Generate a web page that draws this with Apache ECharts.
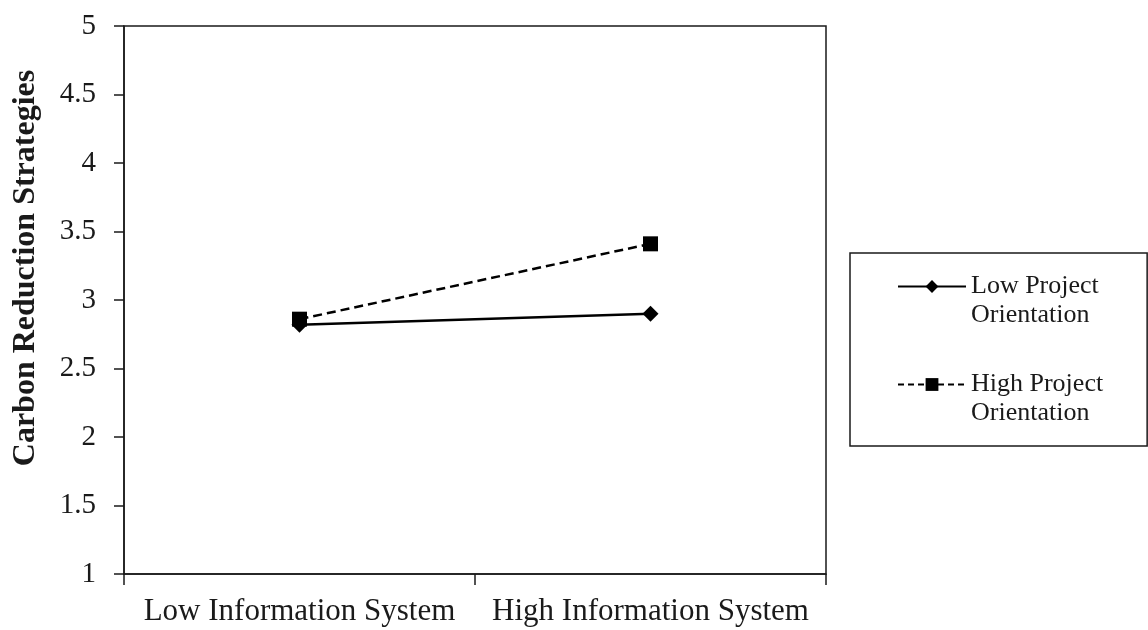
<!DOCTYPE html>
<html>
<head>
<meta charset="utf-8">
<script src="https://cdn.jsdelivr.net/npm/echarts@6/dist/echarts.min.js"></script>
<style>
html,body{margin:0;padding:0;background:#fff;}
#chart{width:1148px;height:630px;}
</style>
</head>
<body>
<div id="chart"></div>
<script>
const categories = ['Low Information System', 'High Information System'];
const lowProjectOrientation = [2.82, 2.90];
const highProjectOrientation = [2.86, 3.41];
const seriesNames = ['Low Project\nOrientation', 'High Project\nOrientation'];
const yAxisTitle = 'Carbon Reduction Strategies';

const serif = '"Liberation Serif", "Times New Roman", serif';
const ink = '#1a1a1a';

const chart = echarts.init(document.getElementById('chart'), null, {renderer: 'canvas'});
chart.setOption({
  backgroundColor: '#ffffff',
  animation: false,
  grid: {
    left: 124, right: 322, top: 26, bottom: 56,
    show: true, borderColor: ink, borderWidth: 1.5, backgroundColor: 'transparent'
  },
  legend: {
    orient: 'vertical',
    left: 850,
    top: 253,
    width: 260,
    padding: [-10, 44, 18, 47],
    borderColor: ink,
    borderWidth: 1.5,
    itemWidth: 68,
    itemHeight: 16,
    itemGap: 11,
    selectedMode: false,
    formatter: function (name) { return '\n' + name; },
    lineStyle: {width: 2},
    textStyle: {
      fontFamily: serif,
      fontSize: 26,
      lineHeight: 29,
      color: ink
    },
    data: [
      {name: seriesNames[0]},
      {name: seriesNames[1], lineStyle: {type: [6, 4]}}
    ]
  },
  xAxis: {
    type: 'category',
    data: categories,
    boundaryGap: true,
    axisLine: {show: true, lineStyle: {color: ink, width: 1.5}},
    axisTick: {show: true, length: 11, lineStyle: {color: ink, width: 1.5}},
    axisLabel: {fontFamily: serif, fontSize: 31, color: ink, margin: 22, interval: 0},
    splitLine: {show: false}
  },
  yAxis: {
    type: 'value',
    min: 1,
    max: 5,
    interval: 0.5,
    name: yAxisTitle,
    nameLocation: 'middle',
    nameRotate: 90,
    nameGap: 82,
    nameTextStyle: {
      fontFamily: serif, fontSize: 32, fontWeight: 'bold', color: ink,
      padding: [0, 0, 0, 64]
    },
    axisLine: {show: true, lineStyle: {color: ink, width: 1.5}},
    axisTick: {show: true, length: 10, inside: false, lineStyle: {color: ink, width: 1.5}},
    axisLabel: {fontFamily: serif, fontSize: 29, color: ink, margin: 28},
    splitLine: {show: false}
  },
  series: [
    {
      name: seriesNames[0],
      type: 'line',
      data: lowProjectOrientation,
      symbol: 'diamond',
      symbolSize: 16,
      showSymbol: true,
      lineStyle: {color: '#000', width: 2.5, type: 'solid'},
      itemStyle: {color: '#000'},
      emphasis: {disabled: true}
    },
    {
      name: seriesNames[1],
      type: 'line',
      data: highProjectOrientation,
      symbol: 'rect',
      symbolSize: 15,
      showSymbol: true,
      lineStyle: {color: '#000', width: 2.5, type: [9, 5]},
      itemStyle: {color: '#000'},
      emphasis: {disabled: true}
    }
  ]
});
</script>
</body>
</html>
